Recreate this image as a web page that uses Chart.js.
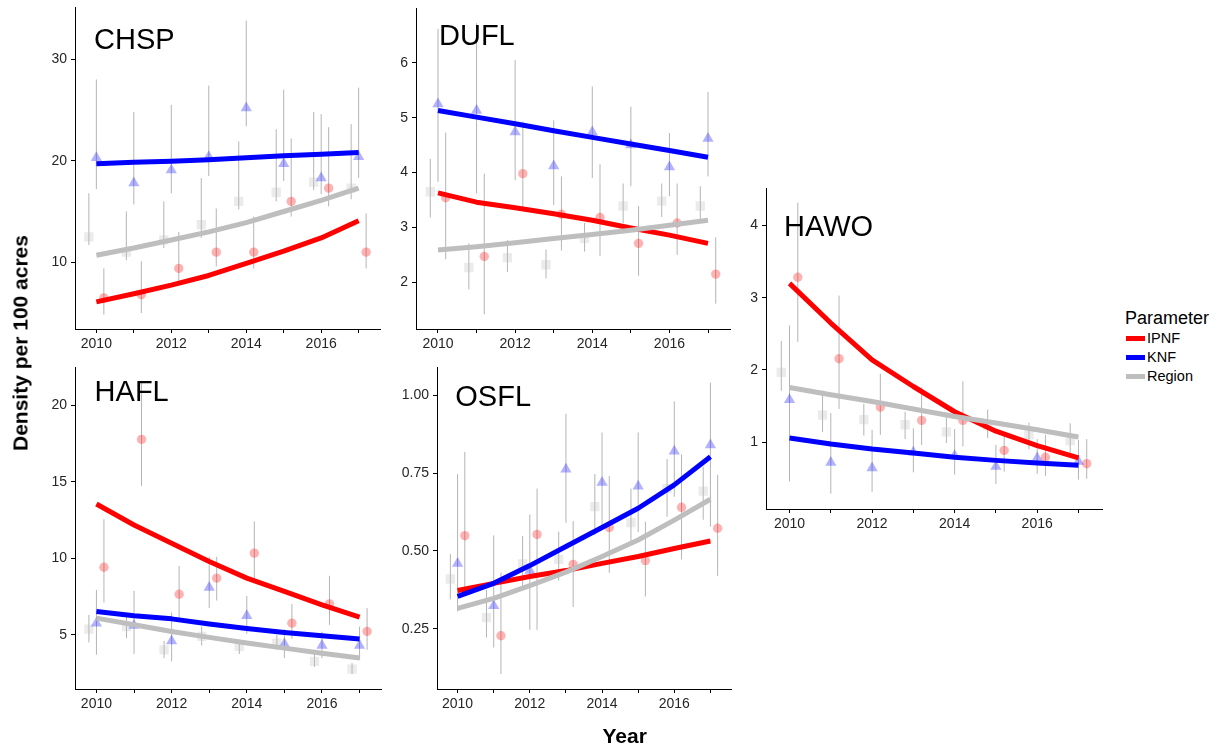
<!DOCTYPE html>
<html>
<head>
<meta charset="utf-8">
<script src="https://cdn.jsdelivr.net/npm/chart.js@4.4.1/dist/chart.umd.min.js"></script>
<style>
  body { margin: 0; background: #fff; width: 1220px; height: 746px; position: relative; overflow: hidden;
         font-family: "Liberation Sans", Arial, sans-serif; }
  canvas { position: absolute; }
  .ttl { position: absolute; font-size: 29px; line-height: 29px; color: #000; white-space: nowrap; }
  .axttl { position: absolute; font-weight: bold; font-size: 21px; line-height: 21px; color: #000; white-space: nowrap; }
  .leg { position: absolute; white-space: nowrap; color: #000; }
  .key { position: absolute; width: 19px; height: 5px; }
</style>
</head>
<body>
<canvas id="c-chsp"></canvas>
<canvas id="c-dufl"></canvas>
<canvas id="c-hawo"></canvas>
<canvas id="c-hafl"></canvas>
<canvas id="c-osfl"></canvas>

<div class="ttl" style="left:94px;top:24.75px">CHSP</div>
<div class="ttl" style="left:439px;top:21.45px">DUFL</div>
<div class="ttl" style="left:784px;top:212.15px">HAWO</div>
<div class="ttl" style="left:94.6px;top:377.15px">HAFL</div>
<div class="ttl" style="left:455.3px;top:382.15px">OSFL</div>

<div class="axttl" style="left:19.7px;top:342.5px;transform:translate(-50%,-50%) rotate(-90deg)">Density per 100 acres</div>
<div class="axttl" style="left:624.7px;top:734.7px;transform:translate(-50%,-50%)">Year</div>

<div class="leg" style="left:1125px;top:308.8px;font-size:18px;line-height:18px">Parameter</div>
<div class="key" style="left:1125.7px;top:335.8px;background:#ff0000"></div>
<div class="key" style="left:1125.7px;top:354.8px;background:#0000ff"></div>
<div class="key" style="left:1125.7px;top:373.5px;background:#bebebe"></div>
<div class="leg" style="left:1147px;top:331.2px;font-size:14.5px;line-height:14.5px">IPNF</div>
<div class="leg" style="left:1147px;top:350.2px;font-size:14.5px;line-height:14.5px">KNF</div>
<div class="leg" style="left:1147px;top:368.9px;font-size:14.5px;line-height:14.5px">Region</div>

<script>
const years = [2010, 2011, 2012, 2013, 2014, 2015, 2016, 2017];

// CHSP
const chspTicks = [10, 20, 30];
const chspKnf = [20.3, 17.8, 19.1, 20.4, 25.2, 19.7, 18.3, 20.4];
const chspKnfLo = [17.2, 15.7, 16.8, 18.5, 23.4, 18.0, 16.7, 18.3];
const chspKnfHi = [28.0, 24.8, 25.5, 27.4, 33.8, 27.0, 24.6, 27.2];
const chspRegion = [12.5, 11.0, 12.2, 13.7, 16.0, 16.9, 17.9, 17.3];
const chspRegionLo = [11.7, 10.2, 11.4, 12.4, 15.2, 16.0, 17.1, 16.2];
const chspRegionHi = [16.8, 15.0, 16.0, 18.3, 21.9, 23.1, 24.8, 23.6];
const chspIpnf = [6.5, 6.8, 9.4, 11.0, 11.0, 16.0, 17.3, 11.0];
const chspIpnfLo = [4.85, 5.0, 8.1, 9.6, 9.4, 14.5, 15.5, 9.4];
const chspIpnfHi = [9.4, 10.1, 13.0, 15.3, 14.5, 22.2, 23.3, 14.8];
const chspKnfFit = [19.7, 19.85, 19.95, 20.1, 20.3, 20.5, 20.65, 20.8];
const chspRegionFit = [10.7, 11.4, 12.2, 13.0, 13.9, 15.0, 16.1, 17.3];
const chspIpnfFit = [6.1, 6.9, 7.75, 8.7, 9.9, 11.1, 12.4, 14.1];

// DUFL
const duflTicks = [2, 3, 4, 5, 6];
const duflKnf = [5.25, 5.13, 4.74, 4.12, 4.74, 4.5, 4.1, 4.62];
const duflKnfLo = [3.83, 3.62, 3.86, 3.41, 3.90, 3.75, 3.57, 3.93];
const duflKnfHi = [6.62, 6.72, 6.05, 4.95, 5.57, 5.2, 4.72, 5.47];
const duflRegion = [3.65, 2.27, 2.45, 2.32, 2.8, 3.39, 3.48, 3.39];
const duflRegionLo = [3.18, 1.87, 2.19, 2.07, 2.56, 3.08, 3.19, 3.13];
const duflRegionHi = [4.25, 2.71, 2.77, 2.6, 3.08, 3.8, 3.8, 3.75];
const duflIpnf = [3.54, 2.47, 3.98, 3.24, 3.18, 2.71, 3.08, 2.15];
const duflIpnfLo = [2.42, 1.42, 3.36, 2.58, 2.48, 2.12, 2.5, 1.61];
const duflIpnfHi = [4.73, 3.98, 4.93, 3.93, 4.15, 3.39, 3.8, 2.82];
const duflKnfFit = [5.13, 5.01, 4.89, 4.76, 4.64, 4.52, 4.40, 4.28];
const duflRegionFit = [2.59, 2.65, 2.72, 2.80, 2.87, 2.95, 3.04, 3.13];
const duflIpnfFit = [3.63, 3.46, 3.36, 3.25, 3.13, 2.99, 2.86, 2.71];

// HAWO
const hawoTicks = [1, 2, 3, 4];
const hawoKnf = [1.586, 0.718, 0.64, 0.86, 0.81, 0.66, 0.78, 0.73];
const hawoKnfLo = [0.455, 0.285, 0.31, 0.58, 0.55, 0.42, 0.56, 0.48];
const hawoKnfHi = [2.615, 1.40, 1.17, 1.19, 1.18, 0.96, 1.04, 1.03];
const hawoRegion = [1.965, 1.374, 1.31, 1.24, 1.14, 1.23, 1.1, 1.02];
const hawoRegionLo = [1.71, 1.14, 1.09, 1.04, 0.986, 1.055, 0.9, 0.85];
const hawoRegionHi = [2.40, 1.715, 1.53, 1.42, 1.41, 1.45, 1.27, 1.26];
const hawoIpnf = [3.284, 2.154, 1.485, 1.3, 1.3, 0.885, 0.79, 0.7];
const hawoIpnfLo = [2.39, 1.46, 1.1, 0.96, 0.94, 0.59, 0.53, 0.49];
const hawoIpnfHi = [4.32, 3.03, 1.946, 1.76, 1.84, 1.125, 1.1, 1.04];
const hawoKnfFit = [1.055, 0.972, 0.903, 0.848, 0.79, 0.746, 0.71, 0.677];
const hawoRegionFit = [1.757, 1.655, 1.563, 1.457, 1.355, 1.263, 1.17, 1.07];
const hawoIpnfFit = [3.2, 2.65, 2.14, 1.77, 1.42, 1.15, 0.95, 0.78];

// HAFL
const haflTicks = [5, 10, 15, 20];
const haflKnf = [5.76, 5.6, 4.6, 8.09, 6.24, 4.4, 4.3, 4.3];
const haflKnfLo = [3.7, 3.74, 3.26, 6.74, 5.07, 3.48, 3.48, 3.37];
const haflKnfHi = [7.93, 7.87, 6.46, 10.1, 7.54, 5.37, 5.2, 5.54];
const haflRegion = [5.37, 5.54, 4.02, 4.9, 4.24, 4.46, 3.26, 2.76];
const haflRegionLo = [4.5, 4.78, 3.48, 4.3, 3.74, 4.02, 2.9, 2.43];
const haflRegionHi = [6.3, 6.41, 4.6, 5.54, 4.67, 5.0, 3.8, 3.15];
const haflIpnf = [9.41, 17.76, 7.65, 8.7, 10.33, 5.76, 7.02, 5.22];
const haflIpnfLo = [7.11, 14.72, 5.98, 7.24, 8.59, 4.74, 5.65, 4.02];
const haflIpnfHi = [12.54, 21.5, 9.5, 10.1, 12.4, 7.0, 8.85, 6.74];
const haflKnfFit = [6.52, 6.24, 6.04, 5.7, 5.41, 5.15, 4.93, 4.72];
const haflRegionFit = [6.09, 5.65, 5.22, 4.83, 4.46, 4.13, 3.8, 3.48];
const haflIpnfFit = [13.54, 12.17, 10.98, 9.78, 8.7, 7.83, 6.96, 6.15];

// OSFL
const osflTicks = [0.25, 0.5, 0.75, 1.0];
const osflKnf = [0.46, 0.324, 0.437, 0.762, 0.72, 0.708, 0.82, 0.84];
const osflKnfLo = [0.306, 0.19, 0.247, 0.59, 0.583, 0.56, 0.674, 0.578];
const osflKnfHi = [0.747, 0.55, 0.617, 0.94, 0.88, 0.88, 0.98, 1.04];
const osflRegion = [0.41, 0.286, 0.458, 0.473, 0.642, 0.591, 0.70, 0.692];
const osflRegionLo = [0.345, 0.222, 0.375, 0.405, 0.551, 0.53, 0.61, 0.6];
const osflRegionHi = [0.49, 0.375, 0.548, 0.562, 0.747, 0.70, 0.795, 0.77];
const osflIpnf = [0.549, 0.228, 0.553, 0.457, 0.575, 0.469, 0.64, 0.573];
const osflIpnfLo = [0.364, 0.105, 0.247, 0.32, 0.43, 0.354, 0.473, 0.42];
const osflIpnfHi = [0.818, 0.43, 0.70, 0.596, 0.74, 0.594, 0.81, 0.744];
const osflKnfFit = [0.354, 0.396, 0.453, 0.514, 0.575, 0.637, 0.712, 0.802];
const osflRegionFit = [0.316, 0.348, 0.389, 0.432, 0.482, 0.535, 0.599, 0.666];
const osflIpnfFit = [0.373, 0.396, 0.418, 0.437, 0.46, 0.482, 0.508, 0.532];

// styling
const lineColor = { IPNF: "#ff0000", KNF: "#0000ff", Region: "#bebebe" };
const pointColor = { IPNF: "rgba(255,0,0,0.3)", KNF: "rgba(0,0,255,0.3)", Region: "rgba(190,190,190,0.3)" };
const pointShape = { IPNF: "circle", KNF: "triangle", Region: "rect" };
const pointSize = { IPNF: 4.7, KNF: 6.5, Region: 6.6 };
const dodge = { IPNF: 0.2, KNF: 0, Region: -0.2 };
const fitOrder = { IPNF: 3, KNF: 2, Region: 1 };
const xRange = [2009.43, 2017.57];
const YW = 60, XH = 30, PT = 12, PR = 12;

function seriesSets(name, vals, lo, hi, fit) {
  const d = dodge[name];
  const bars = years.flatMap((x, i) => [
    { x: x + d, y: lo[i] }, { x: x + d, y: hi[i] }, { x: x + d, y: null }
  ]);
  return [
    {
      type: "line", data: bars, showLine: true, spanGaps: false,
      borderColor: "#b4b4b4", borderWidth: 1, pointRadius: 0, order: 5,
    },
    {
      data: years.map((x, i) => ({ x: x + d, y: vals[i] })),
      pointStyle: pointShape[name], pointRadius: pointSize[name],
      backgroundColor: pointColor[name], borderWidth: 0, order: 4,
    },
    {
      type: "line", data: years.map((x, i) => ({ x: x, y: fit[i] })), showLine: true,
      borderColor: lineColor[name], borderWidth: 5, pointRadius: 0, tension: 0,
      borderJoinStyle: "round", order: fitOrder[name],
    },
  ];
}

function makePanel(id, area, yRange, yTicks, datasets, fmt) {
  const [L, T, R, B] = area;
  const cv = document.getElementById(id);
  cv.width = R - L + YW + PR;
  cv.height = B - T + PT + XH;
  cv.style.left = (L - YW) + "px";
  cv.style.top = (T - PT) + "px";
  const tickFont = { family: "'Liberation Sans', Arial, sans-serif", size: 14 };
  new Chart(cv.getContext("2d"), {
    type: "scatter",
    data: { datasets: datasets },
    options: {
      responsive: false,
      animation: false,
      devicePixelRatio: 1,
      layout: { padding: { top: PT, right: PR, left: 0, bottom: 0 } },
      plugins: { legend: { display: false }, tooltip: { enabled: false } },
      scales: {
        x: {
          type: "linear", min: xRange[0], max: xRange[1], bounds: "data",
          afterBuildTicks: (s) => { s.ticks = years.map((v) => ({ value: v })); },
          afterFit: (s) => { s.height = XH; },
          ticks: {
            font: tickFont, color: "#262626", padding: 3, maxRotation: 0, autoSkip: false,
            callback: (v) => (v % 2 === 0 ? String(v) : ""),
          },
          grid: { display: true, drawOnChartArea: false, drawTicks: true, tickLength: 4, color: "#000" },
          border: { display: true, color: "#000", width: 1 },
        },
        y: {
          type: "linear", min: yRange[0], max: yRange[1], bounds: "data",
          afterBuildTicks: (s) => { s.ticks = yTicks.map((v) => ({ value: v })); },
          afterFit: (s) => { s.width = YW; },
          ticks: { font: tickFont, color: "#262626", padding: 4, callback: fmt },
          grid: { display: true, drawOnChartArea: false, drawTicks: true, tickLength: 4, color: "#000" },
          border: { display: true, color: "#000", width: 1 },
        },
      },
    },
  });
}

const intFmt = (v) => String(v);
const decFmt = (v) => v.toFixed(2);

makePanel("c-chsp", [75, 7, 380, 329], [3.43, 35.1], chspTicks, [
  ...seriesSets("IPNF", chspIpnf, chspIpnfLo, chspIpnfHi, chspIpnfFit),
  ...seriesSets("KNF", chspKnf, chspKnfLo, chspKnfHi, chspKnfFit),
  ...seriesSets("Region", chspRegion, chspRegionLo, chspRegionHi, chspRegionFit),
], intFmt);

makePanel("c-dufl", [416, 8, 730, 329], [1.15, 6.99], duflTicks, [
  ...seriesSets("IPNF", duflIpnf, duflIpnfLo, duflIpnfHi, duflIpnfFit),
  ...seriesSets("KNF", duflKnf, duflKnfLo, duflKnfHi, duflKnfFit),
  ...seriesSets("Region", duflRegion, duflRegionLo, duflRegionHi, duflRegionFit),
], intFmt);

makePanel("c-hawo", [766, 188, 1102, 509], [0.072, 4.516], hawoTicks, [
  ...seriesSets("IPNF", hawoIpnf, hawoIpnfLo, hawoIpnfHi, hawoIpnfFit),
  ...seriesSets("KNF", hawoKnf, hawoKnfLo, hawoKnfHi, hawoKnfFit),
  ...seriesSets("Region", hawoRegion, hawoRegionLo, hawoRegionHi, hawoRegionFit),
], intFmt);

makePanel("c-hafl", [75, 367, 381, 689], [1.46, 22.46], haflTicks, [
  ...seriesSets("IPNF", haflIpnf, haflIpnfLo, haflIpnfHi, haflIpnfFit),
  ...seriesSets("KNF", haflKnf, haflKnfLo, haflKnfHi, haflKnfFit),
  ...seriesSets("Region", haflRegion, haflRegionLo, haflRegionHi, haflRegionFit),
], intFmt);

makePanel("c-osfl", [437, 367, 731, 689], [0.057, 1.089], osflTicks, [
  ...seriesSets("IPNF", osflIpnf, osflIpnfLo, osflIpnfHi, osflIpnfFit),
  ...seriesSets("KNF", osflKnf, osflKnfLo, osflKnfHi, osflKnfFit),
  ...seriesSets("Region", osflRegion, osflRegionLo, osflRegionHi, osflRegionFit),
], decFmt);
</script>
</body>
</html>
